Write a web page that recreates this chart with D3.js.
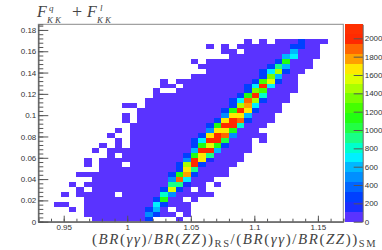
<!DOCTYPE html>
<html>
<head>
<meta charset="utf-8">
<script src="https://cdn.jsdelivr.net/npm/d3@7"></script>
<style>
  html, body { margin: 0; padding: 0; background: #fff; }
  svg { display: block; }
  text { font-family: "Liberation Sans", sans-serif; }
  .math { font-family: "Liberation Serif", serif; fill: #444; }
</style>
</head>
<body>
<svg id="chart" width="382" height="250"></svg>
<script>
// histogram binning, 40 x 40
const xMin = 0.93, xMax = 1.17, yMin = 0, yMax = 0.1853, nBins = 40;
const zMax = 2153;

const xTicks = [0.95, 1, 1.05, 1.1, 1.15];
const yTicks = [0, 0.02, 0.04, 0.06, 0.08, 0.1, 0.12, 0.14, 0.16, 0.18];
const zTicks = [0, 200, 400, 600, 800, 1000, 1200, 1400, 1600, 1800, 2000];

// bottom to top of the colour bar, 20 contours
const palette = [
  "#5a33ff", "#1a2fff", "#0040ff", "#0066ff", "#008fff",
  "#00b8ff", "#00f0ff", "#00ffcc", "#19ff88", "#22ff44",
  "#22ff11", "#44ff00", "#77ff00", "#aaff00", "#ddff00",
  "#ffe800", "#ffa000", "#ff6600", "#ff2a00", "#ff3000"
];

// count given to the low background cells
const lowCount = 50;

// one entry per y bin, bottom up: runs of x bins holding the low background
const lowRuns = [
  [[7,14],[18,18]],
  [[6,17],[19,19]],
  [[4,4],[6,16],[18,19]],
  [[2,3],[6,19]],
  [[6,18],[20,20]],
  [[3,3],[5,9],[11,22]],
  [[5,5],[7,19],[21,21]],
  [[4,4],[6,21],[23,23]],
  [[7,22]],
  [[5,24]],
  [[8,24]],
  [[6,6],[8,10],[12,25]],
  [[6,6],[8,26]],
  [[9,9],[11,26]],
  [[7,7],[9,27]],
  [[8,8],[10,10],[12,27]],
  [[10,10],[12,27],[29,29]],
  [[9,9],[12,29]],
  [[10,10],[12,28]],
  [[12,29]],
  [[11,11],[13,30]],
  [[11,11],[13,30]],
  [[13,31]],
  [[11,12],[14,31]],
  [[14,32]],
  [[15,32]],
  [[15,15],[18,33]],
  [[16,17],[19,33]],
  [[16,16],[18,33]],
  [[20,33]],
  [[22,34]],
  [[21,35]],
  [[20,20],[22,35]],
  [[25,36]],
  [[24,25],[27,36]],
  [[22,22],[24,24],[26,36]],
  [[27,27],[29,29],[31,37]]
];

// the narrow high ridge: first x bin of each y bin, then the counts from there
const ridgeFirstBin = [14,14,14,15,15,16,16,17,17,17,18,18,19,19,20,20,20,21,22,22,23,24,24,25,25,26,27,27,28,29,29,30,31,32,33,33,34];
const ridgeCounts = [
  [270],
  [480,270],
  [270,590],
  [700,270],
  [270,1130],
  [810,480],
  [270,1570,270],
  [920,920,160],
  [480,1890,700],
  [270,1130,1780,270],
  [270,1670,920],
  [270,1460,2000,270],
  [480,2000,1670,160],
  [270,1130,1670,920],
  [590,2000,2000,590],
  [270,1130,1570,1130,270],
  [270,700,2000,2000,1030],
  [270,1670,2000,1890,480],
  [480,1670,1670,1130],
  [270,1130,2000,2000,810],
  [270,1670,2000,1890,270],
  [480,1670,1670,590],
  [270,1130,2000,1670,270],
  [270,1460,1780,700],
  [270,700,1890,1460,270],
  [270,1130,2000,810],
  [270,1350,1240],
  [270,700,2000,700],
  [270,1240,1570,270],
  [270,1350,590],
  [270,700,1460,270],
  [270,920,590],
  [270,1130],
  [590,700],
  [590],
  [270,270],
  [270]
];

// flatten into cells
let cells = [];
lowRuns.forEach((runs, row) => {
  let byBin = new Map();
  runs.forEach(r => {
    d3.range(r[0], r[1] + 1).forEach(b => byBin.set(b, lowCount));
  });
  ridgeCounts[row].forEach((c, i) => byBin.set(ridgeFirstBin[row] + i, c));
  byBin.forEach((count, bin) => cells.push({bin: bin, row: row, count: count}));
});

const svg = d3.select("#chart");

const left = 38.3, right = 343.3, top_ = 24.3, bottom = 221.7;
const barLeft = 344.7, barRight = 362.7;

const x = d3.scaleLinear().domain([xMin, xMax]).range([left, right]);
const y = d3.scaleLinear().domain([yMin, yMax]).range([bottom, top_]);
const z = d3.scaleLinear().domain([0, zMax]).range([bottom, top_]);
const color = d3.scaleQuantize().domain([0, zMax]).range(palette);

const binW = (xMax - xMin) / nBins, binH = (yMax - yMin) / nBins;

svg.append("g")
    .attr("class", "cells")
  .selectAll("rect")
  .data(cells)
  .enter().append("rect")
    .attr("x", d => x(xMin + d.bin * binW))
    .attr("y", d => y(yMin + (d.row + 1) * binH))
    .attr("width", d => x(xMin + (d.bin + 1) * binW) - x(xMin + d.bin * binW))
    .attr("height", d => y(yMin + d.row * binH) - y(yMin + (d.row + 1) * binH))
    .attr("fill", d => color(d.count))
    .attr("shape-rendering", "crispEdges");

// colour bar
const zStep = zMax / palette.length;
svg.append("g")
    .attr("class", "bar")
  .selectAll("rect")
  .data(palette)
  .enter().append("rect")
    .attr("x", barLeft)
    .attr("y", (d, i) => z((i + 1) * zStep))
    .attr("width", barRight - barLeft)
    .attr("height", (d, i) => z(i * zStep) - z((i + 1) * zStep))
    .attr("fill", d => d)
    .attr("shape-rendering", "crispEdges");

// frame
svg.append("rect")
    .attr("x", left).attr("y", top_)
    .attr("width", right - left).attr("height", bottom - top_)
    .attr("fill", "none").attr("stroke", "#8a8a8a").attr("stroke-width", 1);

function styleAxis(g) {
  g.select(".domain").attr("stroke", "#666");
  g.selectAll("line").attr("stroke", "#555");
  g.selectAll("text").attr("fill", "#333").attr("font-size", 8).attr("font-family", "Liberation Sans");
}

// minor ticks
const xMinor = d3.range(0.93, 1.1701, 0.01);
const yMinor = d3.range(0, 0.1851, 0.004);

svg.append("g")
    .attr("transform", "translate(0," + bottom + ")")
    .call(d3.axisBottom(x).tickValues(xMinor).tickSize(-3).tickFormat(""))
    .call(styleAxis);
svg.append("g")
    .attr("transform", "translate(0," + bottom + ")")
    .call(d3.axisBottom(x).tickValues(xTicks).tickSizeInner(-6).tickSizeOuter(0).tickPadding(3).tickFormat(d3.format("~g")))
    .call(styleAxis);

svg.append("g")
    .attr("transform", "translate(" + left + ",0)")
    .call(d3.axisLeft(y).tickValues(yMinor).tickSize(-5).tickFormat(""))
    .call(styleAxis);
svg.append("g")
    .attr("transform", "translate(" + left + ",0)")
    .call(d3.axisLeft(y).tickValues(yTicks).tickSizeInner(-10).tickSizeOuter(0).tickPadding(2).tickFormat(d3.format("~g")))
    .call(styleAxis);

svg.append("g")
    .attr("transform", "translate(" + barRight + ",0)")
    .call(d3.axisRight(z).tickValues(zTicks).tickSizeInner(-9).tickSizeOuter(0).tickPadding(2).tickFormat(d3.format("d")))
    .call(styleAxis);

// title
function mathText(px, py, size, str, italic) {
  return svg.append("text")
      .attr("class", "math")
      .attr("x", px).attr("y", py)
      .attr("font-size", size)
      .attr("font-style", italic ? "italic" : "normal")
      .text(str);
}
mathText(37, 17, 16, "F", true);
mathText(49, 10.5, 9, "q", true);
mathText(47, 22.5, 9, "KK", true).attr("letter-spacing", 2);
mathText(72, 18, 18, "+", false);
mathText(87, 17, 16, "F", true);
mathText(100, 10.5, 9, "l", true);
mathText(97, 22.5, 9, "KK", true).attr("letter-spacing", 2);

// x axis title
const xTitle = svg.append("text")
    .attr("class", "math")
    .attr("x", 92).attr("y", 244)
    .attr("font-size", 15)
    .attr("letter-spacing", 1.55)
    .attr("font-style", "italic");
const xTitleParts = [
  ["(", 0], ["BR", 1], ["(", 0], ["γγ", 1], [")/", 0], ["BR", 1], ["(", 0], ["ZZ", 1], ["))", 0],
  ["RS", 2],
  ["/(", 0], ["BR", 1], ["(", 0], ["γγ", 1], [")/", 0], ["BR", 1], ["(", 0], ["ZZ", 1], ["))", 0],
  ["SM", 2]
];
let prevSub = false;
xTitleParts.forEach(p => {
  let sub = p[1] === 2;
  xTitle.append("tspan")
      .attr("font-style", p[1] === 1 ? "italic" : "normal")
      .attr("font-size", sub ? 10.5 : 15)
      .attr("dy", sub ? 3 : (prevSub ? -3 : 0))
      .text(p[0]);
  prevSub = sub;
});
</script>
</body>
</html>
